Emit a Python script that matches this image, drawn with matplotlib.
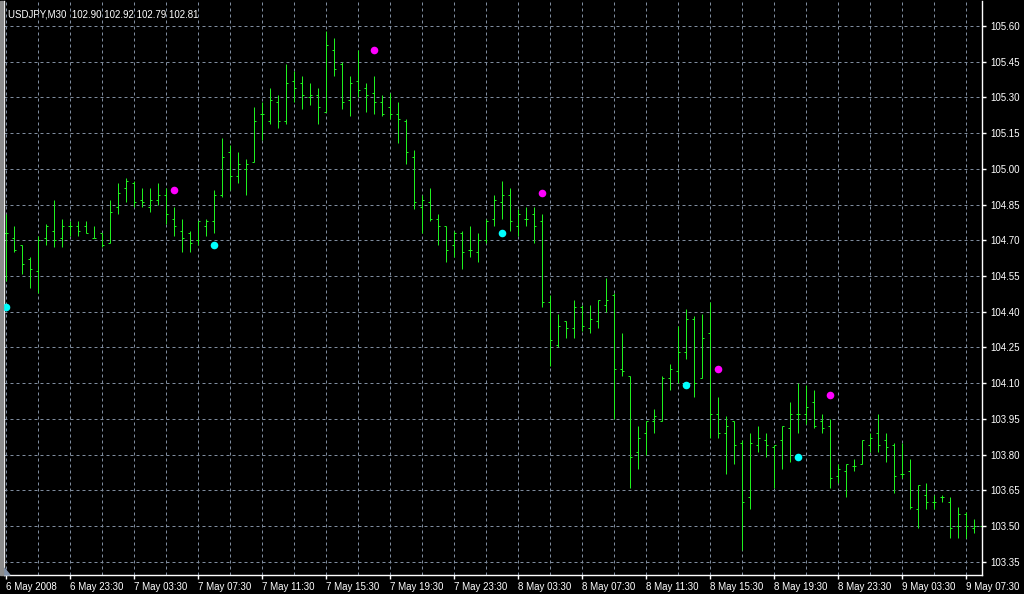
import numpy as np
import matplotlib.pyplot as plt
from matplotlib.patches import Polygon, Rectangle

# USDJPY M30, 123 bars starting 6 May 2008 19:30
opens = [104.73, 104.71, 104.68, 104.62, 104.57, 104.71, 104.74, 104.71, 104.76, 104.76,
         104.76, 104.71, 104.73, 104.69, 104.84, 104.92, 104.94, 104.87, 104.84, 104.87,
         104.89, 104.79, 104.74, 104.73, 104.70, 104.76, 104.78, 104.89, 105.07, 104.97,
         105.00, 105.03, 105.23, 105.20, 105.28, 105.20, 105.37, 105.36, 105.30, 105.31,
         105.24, 105.50, 105.44, 105.29, 105.37, 105.34, 105.32, 105.28, 105.26, 105.23,
         105.20, 105.05, 104.84, 104.86, 104.79, 104.76, 104.68, 104.73, 104.66, 104.65,
         104.70, 104.79, 104.86, 104.89, 104.76, 104.79, 104.81, 104.78, 104.44, 104.26,
         104.36, 104.33, 104.42, 104.33, 104.36, 104.43, 104.47, 104.16, 104.13, 103.81,
         103.89, 103.94, 103.94, 104.12, 104.15, 104.23, 104.37, 104.12, 104.31, 103.97,
         103.89, 103.94, 103.85, 103.62, 103.84, 103.86, 103.83, 103.86, 103.91, 103.97,
         103.97, 104.02, 103.94, 103.92, 103.71, 103.73, 103.75, 103.76, 103.84, 103.89,
         103.86, 103.84, 103.72, 103.73, 103.57, 103.63, 103.60, 103.62, 103.60, 103.50,
         103.55, 103.49, 103.50]
highs = [104.81, 104.76, 104.68, 104.63, 104.72, 104.77, 104.87, 104.79, 104.78, 104.78,
         104.78, 104.76, 104.73, 104.87, 104.94, 104.96, 104.95, 104.92, 104.92, 104.94,
         104.92, 104.84, 104.79, 104.74, 104.78, 104.79, 104.91, 105.13, 105.10, 105.07,
         105.04, 105.26, 105.28, 105.34, 105.31, 105.44, 105.41, 105.39, 105.36, 105.34,
         105.58, 105.55, 105.45, 105.39, 105.50, 105.36, 105.39, 105.31, 105.32, 105.28,
         105.21, 105.08, 104.89, 104.92, 104.81, 104.76, 104.74, 104.74, 104.76, 104.73,
         104.79, 104.89, 104.95, 104.92, 104.83, 104.84, 104.84, 104.81, 104.47, 104.39,
         104.36, 104.45, 104.43, 104.43, 104.45, 104.54, 104.48, 104.31, 104.13, 103.92,
         103.94, 103.99, 104.13, 104.18, 104.34, 104.41, 104.38, 104.39, 104.44, 104.04,
         103.96, 103.94, 103.86, 103.89, 103.92, 103.89, 103.84, 103.92, 104.02, 104.10,
         104.09, 104.07, 103.97, 103.95, 103.76, 103.76, 103.78, 103.86, 103.89, 103.97,
         103.89, 103.85, 103.85, 103.78, 103.67, 103.68, 103.63, 103.63, 103.62, 103.58,
         103.56, 103.53, 103.51]
lows = [104.53, 104.65, 104.56, 104.50, 104.48, 104.68, 104.67, 104.67, 104.72, 104.72,
        104.73, 104.71, 104.67, 104.69, 104.81, 104.86, 104.84, 104.84, 104.82, 104.85,
        104.77, 104.72, 104.65, 104.65, 104.68, 104.72, 104.73, 104.88, 104.91, 104.94,
        104.89, 105.03, 105.12, 105.19, 105.17, 105.19, 105.28, 105.25, 105.27, 105.19,
        105.24, 105.39, 105.25, 105.22, 105.30, 105.24, 105.23, 105.22, 105.21, 105.11,
        105.02, 104.83, 104.73, 104.78, 104.68, 104.61, 104.63, 104.58, 104.63, 104.61,
        104.69, 104.76, 104.79, 104.74, 104.72, 104.76, 104.69, 104.42, 104.17, 104.25,
        104.29, 104.29, 104.32, 104.31, 104.33, 104.40, 103.95, 104.13, 103.66, 103.74,
        103.80, 103.89, 103.94, 104.07, 104.10, 104.20, 104.04, 104.12, 103.87, 103.87,
        103.72, 103.76, 103.40, 103.57, 103.81, 103.79, 103.66, 103.74, 103.77, 103.89,
        103.93, 103.91, 103.89, 103.66, 103.68, 103.62, 103.73, 103.76, 103.81, 103.81,
        103.77, 103.64, 103.70, 103.57, 103.49, 103.57, 103.57, 103.60, 103.45, 103.45,
        103.45, 103.47, 103.39]
closes = [104.73, 104.66, 104.60, 104.58, 104.70, 104.76, 104.70, 104.76, 104.76, 104.74,
          104.73, 104.71, 104.68, 104.82, 104.90, 104.95, 104.86, 104.86, 104.87, 104.89,
          104.81, 104.76, 104.71, 104.69, 104.78, 104.78, 104.89, 105.05, 104.97, 105.02,
          105.02, 105.20, 105.23, 105.29, 105.20, 105.36, 105.34, 105.31, 105.31, 105.26,
          105.52, 105.42, 105.28, 105.36, 105.33, 105.31, 105.28, 105.23, 105.23, 105.21,
          105.07, 104.86, 104.87, 104.79, 104.76, 104.66, 104.73, 104.65, 104.66, 104.70,
          104.78, 104.87, 104.89, 104.78, 104.81, 104.79, 104.76, 104.44, 104.28, 104.34,
          104.33, 104.42, 104.34, 104.37, 104.45, 104.45, 104.16, 104.15, 103.79, 103.87,
          103.94, 103.96, 104.12, 104.16, 104.23, 104.37, 104.10, 104.29, 103.97, 103.89,
          103.92, 103.84, 103.60, 103.85, 103.87, 103.84, 103.84, 103.92, 103.97, 103.97,
          104.00, 103.92, 103.91, 103.70, 103.74, 103.76, 103.75, 103.86, 103.87, 103.84,
          103.83, 103.71, 103.72, 103.58, 103.67, 103.60, 103.60, 103.62, 103.49, 103.55,
          103.50, 103.50, 103.49]

# indicator dots (bar index, price)
up_idx = [21, 46, 67, 89, 103]
up_val = [104.91, 105.50, 104.90, 104.16, 104.05]
dn_idx = [0, 26, 62, 85, 99]
dn_val = [104.42, 104.68, 104.73, 104.09, 103.79]

time_labels = ["6 May 2008", "6 May 23:30", "7 May 03:30", "7 May 07:30", "7 May 11:30",
               "7 May 15:30", "7 May 19:30", "7 May 23:30", "8 May 03:30", "8 May 07:30",
               "8 May 11:30", "8 May 15:30", "8 May 19:30", "8 May 23:30", "9 May 03:30",
               "9 May 07:30"]
price_ticks = [103.35, 103.50, 103.65, 103.80, 103.95, 104.10, 104.25, 104.40,
               104.55, 104.70, 104.85, 105.00, 105.15, 105.30, 105.45, 105.60]

plt.rcParams['font.family'] = ['Liberation Sans', 'DejaVu Sans']
green = '#1ef01e'
grid_col = '#7f8c9e'

fig = plt.figure(figsize=(10.24, 5.94), dpi=100, facecolor='black')
ax = fig.add_axes([4/1024, 19/594, 978/1024, 574/594])
ax.set_facecolor('black')

idx = np.arange(len(opens))
ax.vlines(idx, lows, highs, colors=green, lw=0.72, snap=True, zorder=2)
ax.hlines(opens, idx - 0.25, idx, colors=green, lw=0.72, snap=True, zorder=2)
ax.hlines(closes, idx, idx + 0.25, colors=green, lw=0.72, snap=True, zorder=2)

ax.scatter(up_idx, up_val, s=30, color='#ff00ff', zorder=3, linewidths=0)
ax.scatter(dn_idx, dn_val, s=30, color='#00ffff', zorder=3, linewidths=0)

ax.set_xlim(-0.1875, 122.0625)
ax.set_ylim(103.294, 105.705)

ax.set_xticks(np.arange(0, len(opens), 8))
ax.set_xticklabels(time_labels, ha='left')
ax.set_xticks(np.arange(0, len(opens), 4), minor=True)
ax.set_yticks(price_ticks)
ax.set_yticklabels([f"{v:.2f}" for v in price_ticks])
ax.yaxis.tick_right()

ax.tick_params(axis='both', which='major', colors='white', length=3, width=1,
               labelsize=7, pad=2)
ax.tick_params(axis='x', which='minor', length=0)
ax.tick_params(axis='y', pad=3)

ax.set_axisbelow(True)
ax.grid(True, axis='x', which='both', color=grid_col, lw=0.72, linestyle=(0, (3, 3)))
ax.grid(True, axis='y', which='major', color=grid_col, lw=0.72, linestyle=(0, (3, 3)))

for side in ['left', 'right', 'bottom']:
    ax.spines[side].set_color('white')
    ax.spines[side].set_linewidth(1)
ax.spines['top'].set_visible(False)

# left window edge and chart shift marker
fig.patches.append(Rectangle((0, 19/594), 3/1024, 574/594, transform=fig.transFigure,
                             color='#8c8c8c', zorder=0))
ax.add_patch(Polygon([(0, 0), (0.0061, 0), (0, 0.0122)], closed=True,
                     transform=ax.transAxes, color='#8090a8', zorder=4, clip_on=False))

ax.text(0.004, 0.985, "USDJPY,M30  102.90 102.92 102.79 102.81", transform=ax.transAxes,
        color='white', fontsize=7, va='top', ha='left')

fig.savefig('out.png', dpi=100, facecolor='black')
